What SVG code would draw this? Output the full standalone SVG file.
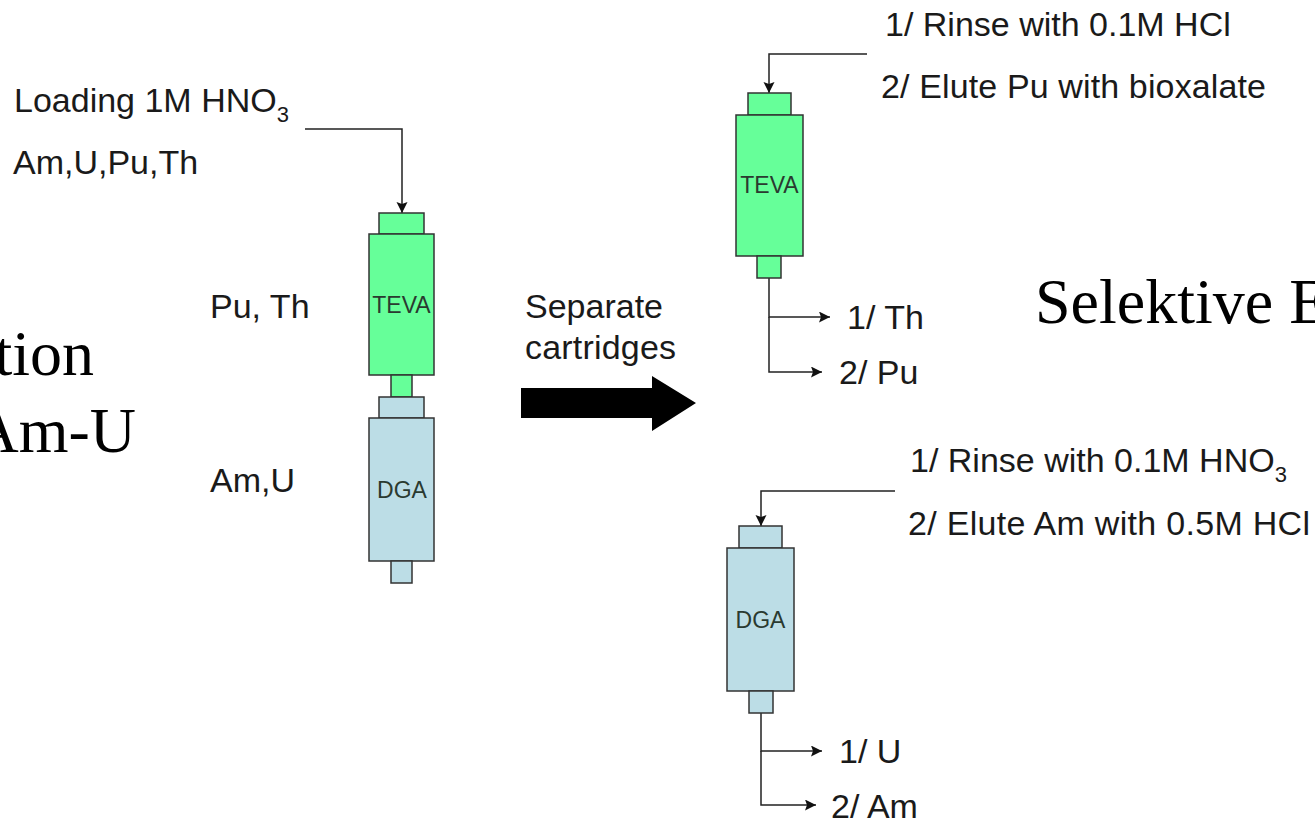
<svg xmlns="http://www.w3.org/2000/svg" width="1315" height="818" viewBox="0 0 1315 818">
<style>
.t{font-family:"Liberation Sans",Arial,sans-serif;font-size:34px;fill:#1a1a1a}
.s{font-size:22px}
.b{font-family:"Liberation Serif","Times New Roman",serif;font-size:64px;fill:#000}
.l{font-family:"Liberation Sans",Arial,sans-serif;font-size:23px;fill:#2a3a30;text-anchor:middle}
.g{fill:#66ff99;stroke:#333;stroke-width:1.5}
.d{fill:#bcdde6;stroke:#333;stroke-width:1.5}
.c{fill:none;stroke:#222;stroke-width:1.5}
</style>
<defs>
<marker id="a" markerUnits="userSpaceOnUse" markerWidth="14" markerHeight="14" refX="11" refY="5.500" orient="auto"><path d="M0 0L11 5.500L0 11L2 5.500z" fill="#111"/></marker>
</defs>
<rect width="1315" height="818" fill="#fff"/>
<g id="connectors">
<path class="c" marker-end="url(#a)" d="M305 129H402V213"/>
<path class="c" marker-end="url(#a)" d="M867 54H769V93"/>
<path class="c" marker-end="url(#a)" d="M769 278V317H830"/>
<path class="c" marker-end="url(#a)" d="M769 317V372H822"/>
<path class="c" marker-end="url(#a)" d="M895 491H761V526"/>
<path class="c" marker-end="url(#a)" d="M761 713V751H822"/>
<path class="c" marker-end="url(#a)" d="M761 751V805H816"/>
<polygon id="separate-arrow" points="521,388 652,388 652,376 696,403 652,431 652,418 521,418" fill="#000"/>
</g>
<g id="left-teva"><rect class="g" x="379" y="213" width="45" height="21"/><rect class="g" x="369" y="234" width="65" height="141"/><rect class="g" x="391" y="375" width="21" height="22"/><text class="l" x="401.500" y="313">TEVA</text></g>
<g id="left-dga"><rect class="d" x="379" y="397" width="45" height="21"/><rect class="d" x="369" y="418" width="65" height="143"/><rect class="d" x="391" y="561" width="21" height="22"/><text class="l" x="402" y="498">DGA</text></g>
<g id="right-teva"><rect class="g" x="748" y="93" width="43" height="22"/><rect class="g" x="736" y="115" width="67" height="141"/><rect class="g" x="757" y="256" width="24" height="22"/><text class="l" x="769.500" y="193">TEVA</text></g>
<g id="right-dga"><rect class="d" x="739" y="526" width="43" height="22"/><rect class="d" x="727" y="548" width="67" height="143"/><rect class="d" x="749" y="691" width="24" height="22"/><text class="l" x="760.500" y="628">DGA</text></g>
<g id="labels">
<text class="t" x="14" y="112">Loading 1M HNO<tspan class="s" dy="10">3</tspan></text>
<text class="t" x="13" y="174">Am,U,Pu,Th</text>
<text class="t" x="210" y="318">Pu, Th</text>
<text class="t" x="210" y="492">Am,U</text>
<text class="t" x="525" y="318">Separate</text>
<text class="t" x="525" y="359" textLength="151">cartridges</text>
<text class="t" x="885" y="36">1/ Rinse with 0.1M HCl</text>
<text class="t" x="881" y="98" textLength="385">2/ Elute Pu with bioxalate</text>
<text class="t" x="847" y="329">1/ Th</text>
<text class="t" x="839" y="384">2/ Pu</text>
<text class="t" x="910" y="472">1/ Rinse with 0.1M HNO<tspan class="s" dy="10">3</tspan></text>
<text class="t" x="908" y="535" textLength="402">2/ Elute Am with 0.5M HCl</text>
<text class="t" x="839" y="763">1/ U</text>
<text class="t" x="831" y="818">2/ Am</text>
<text class="b" x="94" y="375" text-anchor="end">tion</text>
<text class="b" x="136" y="452" text-anchor="end">Am-U</text>
<text class="b" x="1035" y="323">Selektive E</text>
</g>
</svg>
